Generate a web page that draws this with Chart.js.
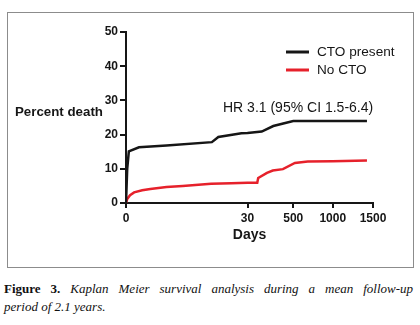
<!DOCTYPE html>
<html>
<head>
  <title>Kaplan Meier</title>
  <script src="https://cdn.jsdelivr.net/npm/chart.js@4.4.1/dist/chart.umd.min.js"></script>
  <style>
    body { margin: 0; background: #fff; width: 420px; height: 325px; overflow: hidden; position: relative; }
    #frame { position: absolute; left: 7px; top: 12px; width: 405px; height: 254px; border: 1px solid #8c8c8c; }
    #wrap { position: absolute; left: 0; top: 0; width: 420px; height: 270px; }
    #caption { position: absolute; left: 4px; top: 280px; width: 409px; font-family: 'Liberation Serif', 'DejaVu Serif', serif; font-size: 13px; line-height: 18px; color: #111; }
    #caption div { text-align: justify; text-align-last: justify; }
    #caption div.last { text-align: left; text-align-last: left; }
    #caption b { font-style: normal; }
    #caption i { font-style: italic; }
  </style>
</head>
<body>
  <div id="frame"></div>
  <div id="wrap"><canvas id="km" width="420" height="270"></canvas></div>
  <div id="caption">
    <div><b>Figure 3.</b> <i>Kaplan Meier survival analysis during a mean follow-up</i></div>
    <div class="last"><i>period of 2.1 years.</i></div>
  </div>

  <script>
    // Datos (dias, % muerte)
    const ctoDays = [0, 0.3, 0.7, 3.2, 10, 21.2, 22.8, 28.5, 30, 176, 295, 500, 1425];
    const ctoDeath = [0, 10, 15.1, 16.3, 16.8, 17.8, 19.3, 20.4, 20.5, 20.9, 22.5, 24.0, 24.0];

    const noCtoDays = [0, 0.3, 1, 2, 4, 6, 10, 14, 21, 26, 30, 130, 140, 230, 290, 394, 521, 684, 1000, 1425];
    const noCtoDeath = [0, 1.2, 2.3, 3.1, 3.7, 4.1, 4.7, 5.0, 5.6, 5.8, 5.9, 5.9, 7.3, 8.8, 9.5, 9.9, 11.7, 12.1, 12.2, 12.4];

    const seriesNames = ['CTO present', 'No CTO'];
    const dayTicks = [0, 30, 500, 1000, 1500];
    const dayTickLabels = ['0', '30', '500', '1000', '1500'];
    const yTicks = [0, 10, 20, 30, 40, 50];
    const hrText = 'HR 3.1 (95% CI 1.5-6.4)';

    // eje x segmentado: cada tick ocupa esta fraccion del ancho
    const tickFrac = [0, 0.492, 0.677, 0.837, 1];

    const sans = "'Liberation Sans', Arial, Helvetica, sans-serif";
    const ink = '#161616';
    const red = '#e6212b';

    class SegmentedScale extends Chart.LinearScale {
      buildTicks() {
        this.start = this.min;
        this.end = this.max;
        return dayTicks.map(v => ({ value: v }));
      }
      fracFor(v) {
        for (let i = 1; i < dayTicks.length; i++) {
          if (v <= dayTicks[i] || i === dayTicks.length - 1) {
            const t = (v - dayTicks[i - 1]) / (dayTicks[i] - dayTicks[i - 1]);
            return tickFrac[i - 1] + t * (tickFrac[i] - tickFrac[i - 1]);
          }
        }
        return 0;
      }
      getPixelForValue(v) {
        return this.left + this.fracFor(v) * this.width;
      }
      getValueForPixel(px) {
        const f = (px - this.left) / this.width;
        for (let i = 1; i < tickFrac.length; i++) {
          if (f <= tickFrac[i] || i === tickFrac.length - 1) {
            const t = (f - tickFrac[i - 1]) / (tickFrac[i] - tickFrac[i - 1]);
            return dayTicks[i - 1] + t * (dayTicks[i] - dayTicks[i - 1]);
          }
        }
        return 0;
      }
    }
    SegmentedScale.id = 'segmented';
    SegmentedScale.defaults = {};
    Chart.register(SegmentedScale);

    const toPoints = (xs, ys) => xs.map((x, i) => ({ x: x, y: ys[i] }));

    // textos extra y leyenda
    const extras = {
      id: 'extras',
      afterDraw(chart) {
        const c = chart.ctx;
        const area = chart.chartArea;
        c.save();
        c.fillStyle = ink;
        c.textBaseline = 'middle';
        c.textAlign = 'left';
        c.font = 'bold 13.3px ' + sans;
        c.fillText('Percent death', 15, 112);

        c.font = '14px ' + sans;
        c.fillText(hrText, 223, 108);

        // leyenda
        chart.data.datasets.forEach((ds, i) => {
          const y = 52 + i * 18;
          c.strokeStyle = ds.borderColor;
          c.lineWidth = 3;
          c.beginPath();
          c.moveTo(286, y);
          c.lineTo(309, y);
          c.stroke();
          c.fillStyle = ink;
          c.font = '13.6px ' + sans;
          c.fillText(ds.label, 317, y + 0.5);
        });
        c.restore();
      }
    };

    new Chart(document.getElementById('km'), {
      type: 'line',
      data: {
        datasets: [
          {
            label: seriesNames[0],
            data: toPoints(ctoDays, ctoDeath),
            borderColor: ink,
            borderWidth: 2.5,
            pointRadius: 0,
            tension: 0,
            fill: false
          },
          {
            label: seriesNames[1],
            data: toPoints(noCtoDays, noCtoDeath),
            borderColor: red,
            borderWidth: 2.5,
            pointRadius: 0,
            tension: 0,
            fill: false
          }
        ]
      },
      options: {
        responsive: false,
        animation: false,
        devicePixelRatio: 1,
        layout: { padding: { left: 76, right: 47, top: 32, bottom: 26 } },
        plugins: { legend: { display: false }, tooltip: { enabled: false } },
        scales: {
          x: {
            type: 'segmented',
            min: 0,
            max: 1500,
            grid: { drawOnChartArea: false, drawTicks: true, tickLength: 5, color: ink, lineWidth: 2 },
            border: { display: true, color: ink, width: 2 },
            ticks: {
              color: ink,
              padding: 3,
              maxRotation: 0,
              autoSkip: false,
              font: { family: sans, size: 12, weight: 'bold' },
              callback: (v) => dayTickLabels[dayTicks.indexOf(v)]
            },
            title: { display: true, text: 'Days', color: ink, padding: 0, font: { family: sans, size: 14, weight: 'bold' } },
            afterFit: (s) => { s.height = 41; }
          },
          y: {
            min: 0,
            max: 50,
            afterBuildTicks: (s) => { s.ticks = yTicks.map(v => ({ value: v })); },
            grid: { drawOnChartArea: false, drawTicks: true, tickLength: 6, color: ink, lineWidth: 2 },
            border: { display: true, color: ink, width: 2 },
            ticks: {
              color: ink,
              padding: 2,
              font: { family: sans, size: 12, weight: 'bold' }
            },
            afterFit: (s) => { s.width = 50; }
          }
        }
      },
      plugins: [extras]
    });
  </script>
</body>
</html>
